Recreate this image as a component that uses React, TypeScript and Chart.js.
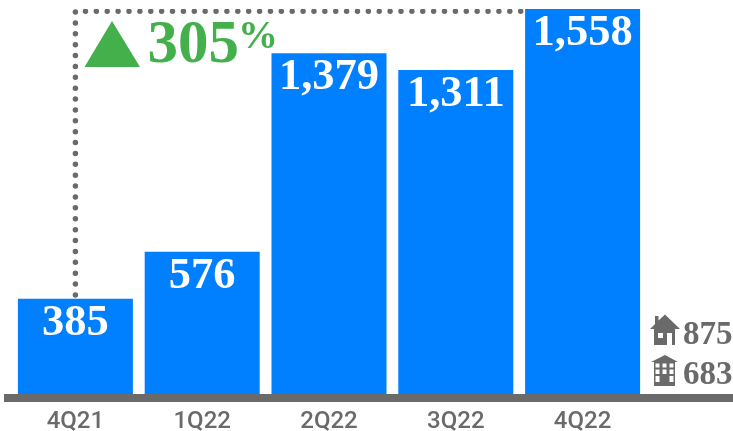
import React, { useEffect, useRef } from "react";
import { Chart, registerables } from "chart.js";

Chart.register(...registerables);

const categories = ["4Q21", "1Q22", "2Q22", "3Q22", "4Q22"];
const values = [385, 576, 1379, 1311, 1558];
const valueLabels = ["385", "576", "1,379", "1,311", "1,558"];
const guideCorner = 1549;
const guideStart = 401;
const changeLabel = "305";
const changeUnit = "%";
const houseLabel = "875";
const buildingLabel = "683";

const BLUE = "#007fff";
const GREY = "#6a6a6a";
const GREEN = "#43b04c";
const SERIF = '"Liberation Serif", serif';

const overlay = {
  id: "overlay",
  beforeDatasetsDraw(chart: any) {
    const { ctx } = chart;
    const y0 = chart.scales.y.getPixelForValue(0);
    ctx.save();
    ctx.fillStyle = GREY;
    ctx.fillRect(4, y0, 729, 8);
    ctx.restore();
  },
  afterDatasetsDraw(chart: any) {
    const { ctx } = chart;
    ctx.save();
    // value labels inside the bars
    const meta = chart.getDatasetMeta(1);
    ctx.fillStyle = "#ffffff";
    ctx.font = `bold 44.5px ${SERIF}`;
    ctx.textAlign = "center";
    ctx.textBaseline = "alphabetic";
    valueLabels.forEach((t, i) => {
      const el = meta.data[i];
      ctx.fillText(t, el.x, el.y + 36);
    });

    // up triangle and change figure
    ctx.fillStyle = GREEN;
    ctx.beginPath();
    ctx.moveTo(112, 21);
    ctx.lineTo(140, 67);
    ctx.lineTo(84.5, 67);
    ctx.closePath();
    ctx.fill();
    ctx.textAlign = "left";
    ctx.font = `bold 61px ${SERIF}`;
    ctx.fillText(changeLabel, 147.5, 62);
    ctx.font = `bold 40px ${SERIF}`;
    ctx.fillText(changeUnit, 238, 47.5);

    // side breakdown
    ctx.fillStyle = GREY;
    ctx.font = `bold 33px ${SERIF}`;
    ctx.fillText(houseLabel, 683, 343.5);
    ctx.fillText(buildingLabel, 683, 383.5);

    // house icon
    ctx.beginPath();
    ctx.moveTo(665, 314.5);
    ctx.lineTo(680, 329);
    ctx.lineTo(675, 329);
    ctx.lineTo(675, 345);
    ctx.lineTo(654, 345);
    ctx.lineTo(654, 329);
    ctx.lineTo(650, 329);
    ctx.lineTo(655, 324);
    ctx.lineTo(655, 316);
    ctx.lineTo(658.5, 316);
    ctx.lineTo(658.5, 320.5);
    ctx.closePath();
    ctx.fill();
    ctx.fillStyle = "#ffffff";
    ctx.fillRect(658, 333, 5, 5);
    ctx.fillRect(667, 333, 5, 12);

    // building icon
    ctx.fillStyle = GREY;
    ctx.beginPath();
    ctx.moveTo(665, 355);
    ctx.lineTo(678, 362);
    ctx.lineTo(651, 362);
    ctx.closePath();
    ctx.fill();
    ctx.fillRect(654, 362, 21, 24);
    ctx.fillStyle = "#ffffff";
    [655.5, 662.5, 669.5].forEach((x) => {
      ctx.fillRect(x, 363.5, 4, 4);
      ctx.fillRect(x, 369.5, 4, 4.5);
      if (x !== 662.5) ctx.fillRect(x, 376, 4, 6);
    });
    ctx.restore();
  },
};

export default function App() {
  const ref = useRef<HTMLCanvasElement>(null);
  useEffect(() => {
    const chart = new Chart(ref.current as HTMLCanvasElement, {
      type: "bar",
      data: {
        labels: categories,
        datasets: [
          {
            type: "line",
            data: [
              { x: categories[0], y: guideStart },
              { x: categories[0], y: guideCorner },
              { x: categories[4], y: guideCorner },
            ],
            borderColor: GREY,
            borderWidth: 5.5,
            borderDash: [0, 10.88],
            borderCapStyle: "round",
            pointRadius: 0,
            tension: 0,
            order: 2,
          } as any,
          {
            type: "bar",
            data: values,
            backgroundColor: BLUE,
            barPercentage: 0.907,
            categoryPercentage: 1,
            order: 1,
          },
        ],
      },
      options: {
        animation: false,
        responsive: false,
        devicePixelRatio: 1,
        layout: { padding: { left: 12, right: 87, top: 9, bottom: 0 } },
        plugins: { legend: { display: false }, tooltip: { enabled: false } },
        scales: {
          x: {
            grid: { display: false },
            border: { display: false },
            afterFit(scale: any) {
              scale.height = 37;
            },
            ticks: {
              color: GREY,
              padding: 6,
              maxRotation: 0,
              font: { family: "Roboto", size: 24, weight: 500 },
            },
          },
          y: { display: false, min: 0, max: 1558 },
        },
      },
      plugins: [overlay],
    } as any);
    return () => chart.destroy();
  }, []);
  return (
    <div style={{ position: "absolute", left: 0, top: 0 }}>
      <canvas ref={ref} width={733} height={431} style={{ display: "block" }} />
    </div>
  );
}
